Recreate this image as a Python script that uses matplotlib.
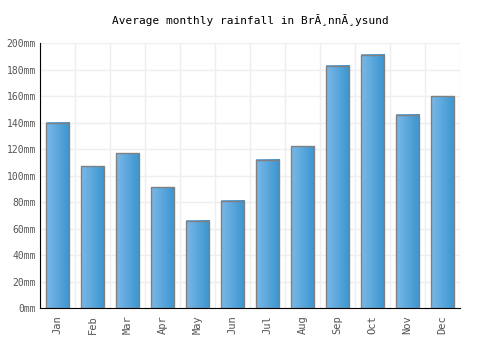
import numpy as np
import matplotlib.pyplot as plt
from matplotlib.colors import LinearSegmentedColormap

months = ['Jan', 'Feb', 'Mar', 'Apr', 'May', 'Jun', 'Jul', 'Aug', 'Sep', 'Oct', 'Nov', 'Dec']
rainfall = [140, 107, 117, 91, 66, 81, 112, 122, 183, 191, 146, 160]
yticks = [0, 20, 40, 60, 80, 100, 120, 140, 160, 180, 200]

plt.rcParams['font.family'] = 'DejaVu Sans Mono'

fig = plt.figure(figsize=(5, 3.5), dpi=100)
ax = fig.add_axes([0.08, 0.12, 0.84, 0.757])

cmap = LinearSegmentedColormap.from_list('bar', ['#7bb8e8', '#3a95cf'])
grad = np.linspace(0, 1, 64).reshape(1, -1)
x = np.arange(len(months))
w = 0.66
for xi, v in zip(x, rainfall):
    ax.imshow(grad, cmap=cmap, aspect='auto', extent=(xi - w / 2, xi + w / 2, 0, v), zorder=2)
bars = ax.bar(x, rainfall, width=w, facecolor='none', edgecolor='#808080', linewidth=1, zorder=3)

ax.set_xlim(-0.5, len(months) - 0.5)
ax.set_ylim(0, 200)
ax.set_xticks(x)
ax.set_xticklabels(months, rotation=90, color='#555555', fontsize=7.5)
ax.set_yticks(yticks)
ax.set_yticklabels([f'{t}mm' for t in yticks], color='#555555', fontsize=7)
ax.set_xticks(np.arange(-0.5, len(months), 1), minor=True)
ax.grid(True, which='minor', axis='x', color='#eeeeee', linewidth=1, zorder=0)
ax.grid(True, which='major', axis='y', color='#eeeeee', linewidth=1, zorder=0)
ax.tick_params(axis='y', which='both', length=0, pad=3)
ax.tick_params(axis='x', which='both', length=0, pad=5)
ax.spines['top'].set_visible(False)
ax.spines['right'].set_visible(False)
ax.spines['left'].set_color('black')
ax.spines['bottom'].set_color('black')
ax.set_axisbelow(True)

ax.set_title('Average monthly rainfall in Br\u0102\u00b8nn\u0102\u00b8ysund', fontsize=8, pad=14)

fig.savefig('out.png')
